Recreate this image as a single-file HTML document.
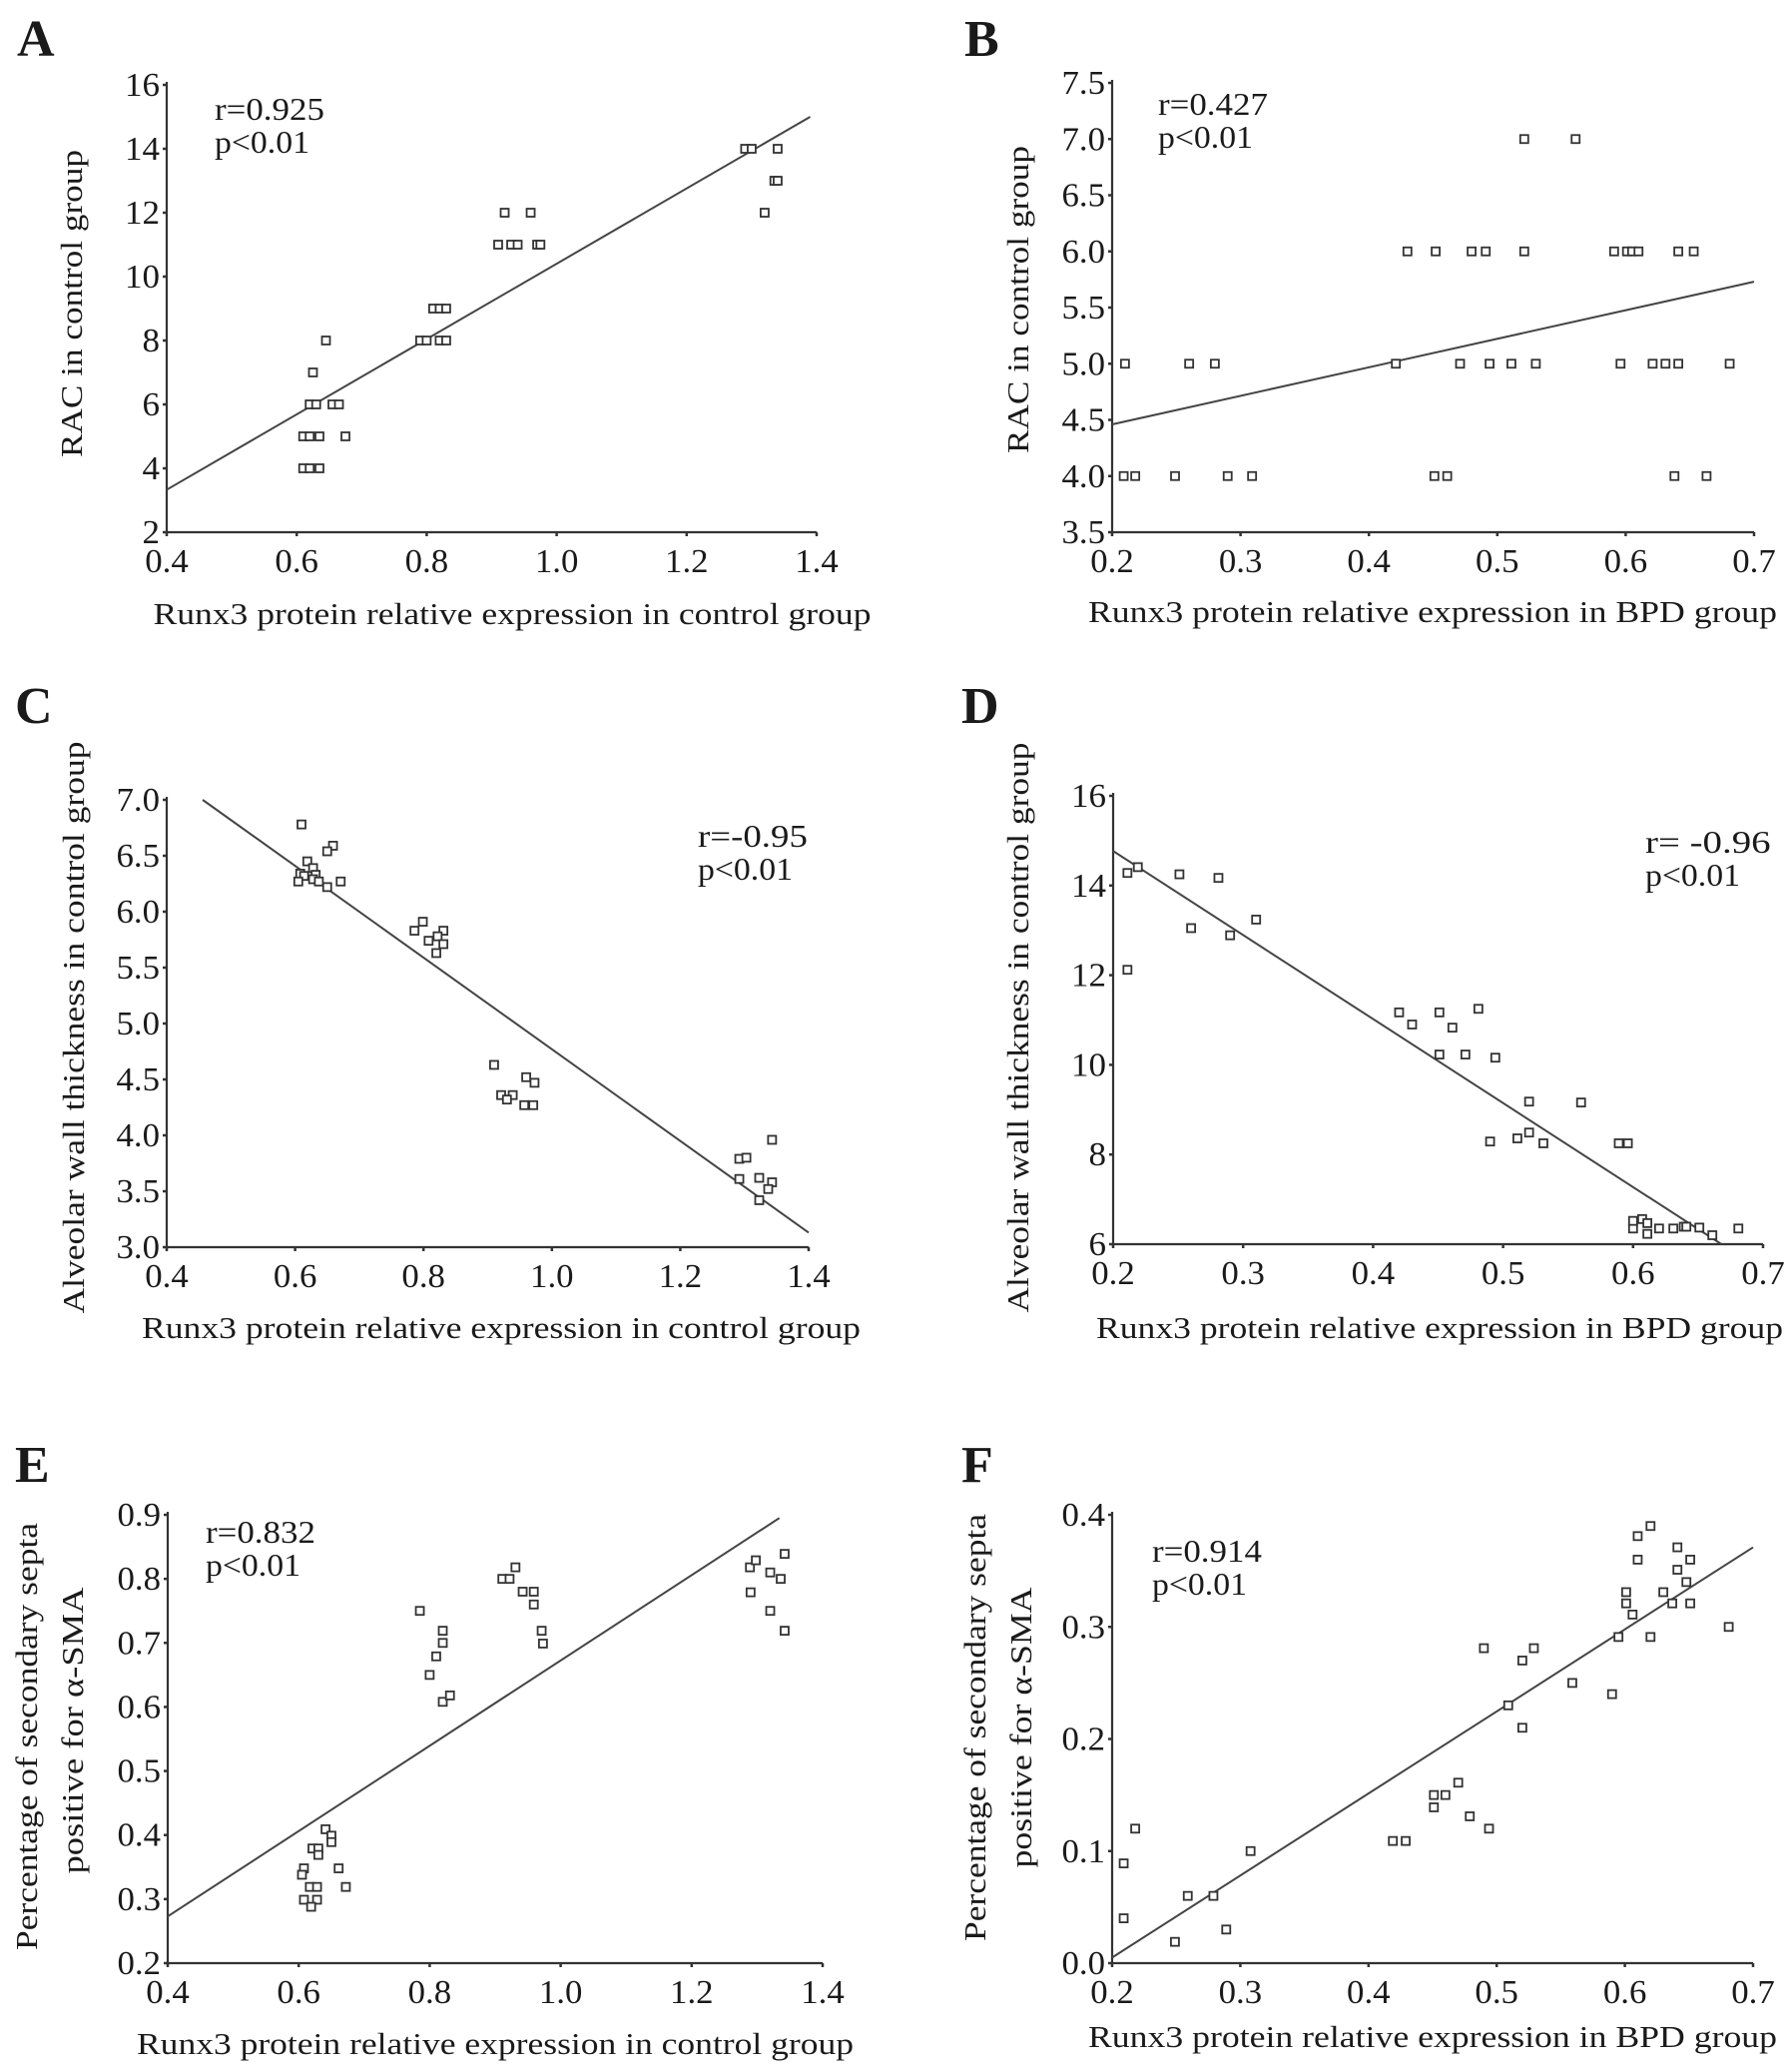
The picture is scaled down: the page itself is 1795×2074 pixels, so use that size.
<!DOCTYPE html>
<html>
<head>
<meta charset="utf-8">
<style>
html,body{margin:0;padding:0;background:#fff;}
svg{display:block;}
text{font-family:"Liberation Serif","Times New Roman",serif;fill:#1a1a1a;}
</style>
</head>
<body>
<svg id="fig" width="1795" height="2074" viewBox="0 0 1795 2074" xmlns="http://www.w3.org/2000/svg" font-family="Liberation Serif, serif"></svg>
<script>
// ---------- Panel A data ----------
const aX = [0.61,0.62,0.635,0.61,0.62,0.635,0.675,0.62,0.63,0.655,0.665,0.625,0.645,0.79,0.80,0.82,0.83,0.81,0.82,0.83,0.91,0.93,0.94,0.97,0.975,0.92,0.96,1.29,1.30,1.34,1.335,1.34,1.32];
const aY = [4,4,4,5,5,5,5,6,6,6,6,7,8,8,8,8,8,9,9,9,11,11,11,11,11,12,12,14,14,14,13,13,12];
const aFit = [[0.4,3.33],[1.39,15.0]];
const aXTicks = [0.4,0.6,0.8,1.0,1.2,1.4];
const aXTickLabels = ["0.4","0.6","0.8","1.0","1.2","1.4"];
const aYTicks = [2,4,6,8,10,12,14,16];
const aYTickLabels = ["2","4","6","8","10","12","14","16"];

// ---------- Panel B data ----------
const bX = [0.521,0.561,0.43,0.452,0.48,0.491,0.521,0.591,0.601,0.605,0.61,0.641,0.653,0.21,0.26,0.28,0.421,0.471,0.494,0.511,0.53,0.596,0.621,0.631,0.641,0.681,0.209,0.218,0.249,0.29,0.309,0.451,0.461,0.638,0.663];
const bY = [7,7,6,6,6,6,6,6,6,6,6,6,6,5,5,5,5,5,5,5,5,5,5,5,5,5,4,4,4,4,4,4,4,4,4];
const bFit = [[0.2,4.46],[0.7,5.73]];
const bXTicks = [0.2,0.3,0.4,0.5,0.6,0.7];
const bXTickLabels = ["0.2","0.3","0.4","0.5","0.6","0.7"];
const bYTicks = [3.5,4.0,4.5,5.0,5.5,6.0,6.5,7.0,7.5];
const bYTickLabels = ["3.5","4.0","4.5","5.0","5.5","6.0","6.5","7.0","7.5"];

// ---------- Panel C data ----------
const cX = [0.61,0.659,0.65,0.619,0.628,0.608,0.632,0.614,0.628,0.605,0.671,0.637,0.65,0.786,0.799,0.831,0.822,0.808,0.831,0.82,0.91,0.921,0.939,0.93,0.96,0.973,0.957,0.971,1.292,1.303,1.343,1.292,1.323,1.343,1.337,1.323];
const cY = [6.78,6.59,6.54,6.45,6.39,6.34,6.33,6.32,6.29,6.27,6.27,6.27,6.22,5.83,5.91,5.83,5.78,5.74,5.71,5.63,4.63,4.36,4.36,4.32,4.52,4.47,4.27,4.27,3.79,3.80,3.96,3.61,3.62,3.58,3.52,3.42];
const cFit = [[0.456,7.0],[1.4,3.13]];
const cXTicks = [0.4,0.6,0.8,1.0,1.2,1.4];
const cXTickLabels = ["0.4","0.6","0.8","1.0","1.2","1.4"];
const cYTicks = [3.0,3.5,4.0,4.5,5.0,5.5,6.0,6.5,7.0];
const cYTickLabels = ["3.0","3.5","4.0","4.5","5.0","5.5","6.0","6.5","7.0"];

// ---------- Panel D data ----------
const dX = [0.211,0.219,0.251,0.281,0.26,0.29,0.31,0.211,0.42,0.43,0.451,0.461,0.481,0.451,0.471,0.494,0.52,0.56,0.49,0.511,0.52,0.531,0.589,0.596,0.6,0.6,0.607,0.611,0.611,0.62,0.631,0.639,0.641,0.651,0.661,0.681];
const dY = [14.28,14.41,14.25,14.17,13.05,12.89,13.24,12.12,11.17,10.9,11.17,10.83,11.25,10.23,10.23,10.16,9.18,9.16,8.29,8.36,8.49,8.25,8.25,8.25,6.35,6.52,6.56,6.47,6.23,6.35,6.35,6.39,6.39,6.37,6.2,6.35];
const dFit = [[0.2,14.77],[0.668,6.0]];
const dXTicks = [0.2,0.3,0.4,0.5,0.6,0.7];
const dXTickLabels = ["0.2","0.3","0.4","0.5","0.6","0.7"];
const dYTicks = [6,8,10,12,14,16];
const dYTickLabels = ["6","8","10","12","14","16"];

// ---------- Panel E data ----------
const eX = [0.608,0.605,0.621,0.63,0.63,0.641,0.65,0.65,0.661,0.672,0.617,0.628,0.608,0.628,0.619,0.785,0.8,0.81,0.82,0.82,0.82,0.831,0.911,0.922,0.931,0.942,0.959,0.959,0.971,0.973,1.289,1.298,1.29,1.32,1.336,1.342,1.32,1.342];
const eY = [0.348,0.338,0.379,0.379,0.369,0.409,0.399,0.389,0.348,0.319,0.319,0.319,0.299,0.299,0.288,0.75,0.65,0.679,0.719,0.70,0.608,0.618,0.80,0.80,0.818,0.78,0.78,0.76,0.719,0.699,0.818,0.829,0.779,0.81,0.80,0.839,0.75,0.719];
const eFit = [[0.4,0.273],[1.334,0.895]];
const eXTicks = [0.4,0.6,0.8,1.0,1.2,1.4];
const eXTickLabels = ["0.4","0.6","0.8","1.0","1.2","1.4"];
const eYTicks = [0.2,0.3,0.4,0.5,0.6,0.7,0.8,0.9];
const eYTickLabels = ["0.2","0.3","0.4","0.5","0.6","0.7","0.8","0.9"];

// ---------- Panel F data ----------
const fX = [0.209,0.218,0.209,0.249,0.259,0.279,0.289,0.308,0.419,0.429,0.451,0.46,0.451,0.47,0.479,0.494,0.49,0.52,0.529,0.509,0.52,0.559,0.59,0.595,0.601,0.601,0.606,0.61,0.61,0.62,0.62,0.63,0.637,0.641,0.641,0.651,0.651,0.648,0.681];
const fY = [0.089,0.12,0.04,0.019,0.06,0.06,0.03,0.10,0.109,0.109,0.15,0.15,0.139,0.161,0.131,0.12,0.281,0.27,0.281,0.23,0.21,0.25,0.24,0.291,0.331,0.321,0.311,0.381,0.36,0.39,0.291,0.331,0.321,0.371,0.351,0.36,0.321,0.34,0.30];
const fFit = [[0.2,0.005],[0.7,0.371]];
const fXTicks = [0.2,0.3,0.4,0.5,0.6,0.7];
const fXTickLabels = ["0.2","0.3","0.4","0.5","0.6","0.7"];
const fYTicks = [0.0,0.1,0.2,0.3,0.4];
const fYTickLabels = ["0.0","0.1","0.2","0.3","0.4"];

const NS = "http://www.w3.org/2000/svg";
const svg = document.getElementById("fig");

function mk(tag, attrs, parent) {
  const el = document.createElementNS(NS, tag);
  for (const k in attrs) el.setAttribute(k, attrs[k]);
  if (tag === "text") el.setAttribute("font-family", "Liberation Serif, Times New Roman, serif");
  parent.appendChild(el);
  return el;
}
function labelWidth(s) {
  let w = 0;
  for (const ch of s) w += (ch === ".") ? 8.5 : 17.5;
  return w;
}

function drawPanel(p) {
  const g = mk("g", {}, svg);
  
  
  const sx = v => p.x0 + (v - p.xmin) / (p.xmax - p.xmin) * (p.x1 - p.x0);
  const sy = v => p.y0 + (v - p.ymin) / (p.ymax - p.ymin) * (p.y1 - p.y0);

  const L = mk("text", {x: p.lx, y: p.ly, "font-size": 52, "font-weight": "bold", fill: "#111"}, g);
  L.textContent = p.id;
  
  

  const ya = mk("line", {x1: p.x0, y1: p.y1 - 3, x2: p.x0, y2: p.y0, stroke: "#333", "stroke-width": 2.2}, g);
  
  
  const xa = mk("line", {x1: p.x0, y1: p.y0, x2: p.x1, y2: p.y0, stroke: "#333", "stroke-width": 2.2}, g);
  
  

  p.xTicks.forEach((v, i) => {
    const X = sx(v);
    const t = mk("line", {x1: X, y1: p.y0, x2: X, y2: p.y0 + 4, stroke: "#333", "stroke-width": 2.5}, g);
    
    
    const tl = mk("text", {x: X, y: p.y0 + 40, "font-size": 34, "text-anchor": "middle",
      textLength: labelWidth(p.xLabels[i]), lengthAdjust: "spacingAndGlyphs"}, g);
    tl.textContent = p.xLabels[i];
    
    
  });
  p.yTicks.forEach((v, i) => {
    const Y = sy(v);
    const t = mk("line", {x1: p.x0 - 4, y1: Y, x2: p.x0, y2: Y, stroke: "#333", "stroke-width": 2.5}, g);
    
    
    const tl = mk("text", {x: p.x0 - 7, y: Y + 11, "font-size": 34, "text-anchor": "end",
      textLength: labelWidth(p.yLabels[i]), lengthAdjust: "spacingAndGlyphs"}, g);
    tl.textContent = p.yLabels[i];
    
    
  });

  const fl = mk("line", {x1: sx(p.fit[0][0]), y1: sy(p.fit[0][1]), x2: sx(p.fit[1][0]), y2: sy(p.fit[1][1]), stroke: "#444", "stroke-width": 2}, g);
  
  

  p.xs.forEach((v, i) => {
    const r = mk("rect", {x: sx(v) - 4, y: sy(p.ys[i]) - 4, width: 8, height: 8, fill: "#fff", stroke: "#333", "stroke-width": 1.8}, g);
    
    
  });

  const s1 = mk("text", {x: p.sx, y: p.sy, "font-size": 32, textLength: p.r.length * 15.7, lengthAdjust: "spacingAndGlyphs"}, g);
  s1.textContent = p.r;
  
  
  const s2 = mk("text", {x: p.sx, y: p.sy + 33, "font-size": 32, textLength: 95, lengthAdjust: "spacingAndGlyphs"}, g);
  s2.textContent = "p<0.01";
  
  

  const xt = mk("text", {x: p.xtx, y: p.xty, "font-size": 31, "text-anchor": "middle", textLength: p.xtw, lengthAdjust: "spacingAndGlyphs"}, g);
  xt.textContent = p.xTitle;
  
  

  p.yTitles.forEach(yt => {
    const t = mk("text", {x: 0, y: 0, "font-size": 31, "text-anchor": "middle", textLength: yt.w, lengthAdjust: "spacingAndGlyphs",
      transform: "translate(" + yt.x + "," + yt.y + ") rotate(-90)"}, g);
    t.textContent = yt.t;
    
    
  });
}

const ctl = "Runx3 protein relative expression in control group";
const bpd = "Runx3 protein relative expression in BPD group";

drawPanel({id:"A", lx:17, ly:56, x0:167, x1:818, xmin:0.4, xmax:1.4, y0:533, y1:85, ymin:2, ymax:16,
  xs:aX, ys:aY, fit:aFit, xTicks:aXTicks, xLabels:aXTickLabels, yTicks:aYTicks, yLabels:aYTickLabels,
  r:"r=0.925", sx:215, sy:120, xTitle:ctl, xtx:513, xty:625, xtw:719,
  yTitles:[{t:"RAC in control group", x:82, y:304, w:308}]});

drawPanel({id:"B", lx:966, ly:56, x0:1114, x1:1757, xmin:0.2, xmax:0.7, y0:533, y1:83, ymin:3.5, ymax:7.5,
  xs:bX, ys:bY, fit:bFit, xTicks:bXTicks, xLabels:bXTickLabels, yTicks:bYTicks, yLabels:bYTickLabels,
  r:"r=0.427", sx:1160, sy:115, xTitle:bpd, xtx:1435, xty:623, xtw:690,
  yTitles:[{t:"RAC in control group", x:1030, y:300, w:308}]});

drawPanel({id:"C", lx:15, ly:724, x0:167, x1:810, xmin:0.4, xmax:1.4, y0:1249, y1:801, ymin:3.0, ymax:7.0,
  xs:cX, ys:cY, fit:cFit, xTicks:cXTicks, xLabels:cXTickLabels, yTicks:cYTicks, yLabels:cYTickLabels,
  r:"r=-0.95", sx:699, sy:848, xTitle:ctl, xtx:502, xty:1340, xtw:720,
  yTitles:[{t:"Alveolar wall thickness in control group", x:84, y:1029, w:573}]});

drawPanel({id:"D", lx:963, ly:724, x0:1115, x1:1766, xmin:0.2, xmax:0.7, y0:1246, y1:797, ymin:6, ymax:16,
  xs:dX, ys:dY, fit:dFit, xTicks:dXTicks, xLabels:dXTickLabels, yTicks:dYTicks, yLabels:dYTickLabels,
  r:"r= -0.96", sx:1648, sy:854, xTitle:bpd, xtx:1442, xty:1340, xtw:688,
  yTitles:[{t:"Alveolar wall thickness in control group", x:1030, y:1029, w:571}]});

drawPanel({id:"E", lx:15, ly:1484, x0:168, x1:824, xmin:0.4, xmax:1.4, y0:1966, y1:1517, ymin:0.2, ymax:0.9,
  xs:eX, ys:eY, fit:eFit, xTicks:eXTicks, xLabels:eXTickLabels, yTicks:eYTicks, yLabels:eYTickLabels,
  r:"r=0.832", sx:206, sy:1545, xTitle:ctl, xtx:496, xty:2057, xtw:718,
  yTitles:[{t:"Percentage of secondary septa", x:37, y:1739, w:428},{t:"positive for α-SMA", x:83, y:1733, w:287}]});

drawPanel({id:"F", lx:963, ly:1484, x0:1114, x1:1756, xmin:0.2, xmax:0.7, y0:1966, y1:1517, ymin:0.0, ymax:0.4,
  xs:fX, ys:fY, fit:fFit, xTicks:fXTicks, xLabels:fXTickLabels, yTicks:fYTicks, yLabels:fYTickLabels,
  r:"r=0.914", sx:1154, sy:1564, xTitle:bpd, xtx:1435, xty:2050, xtw:690,
  yTitles:[{t:"Percentage of secondary septa", x:987, y:1730, w:428},{t:"positive for α-SMA", x:1033, y:1730, w:281}]});
</script>
</body>
</html>
